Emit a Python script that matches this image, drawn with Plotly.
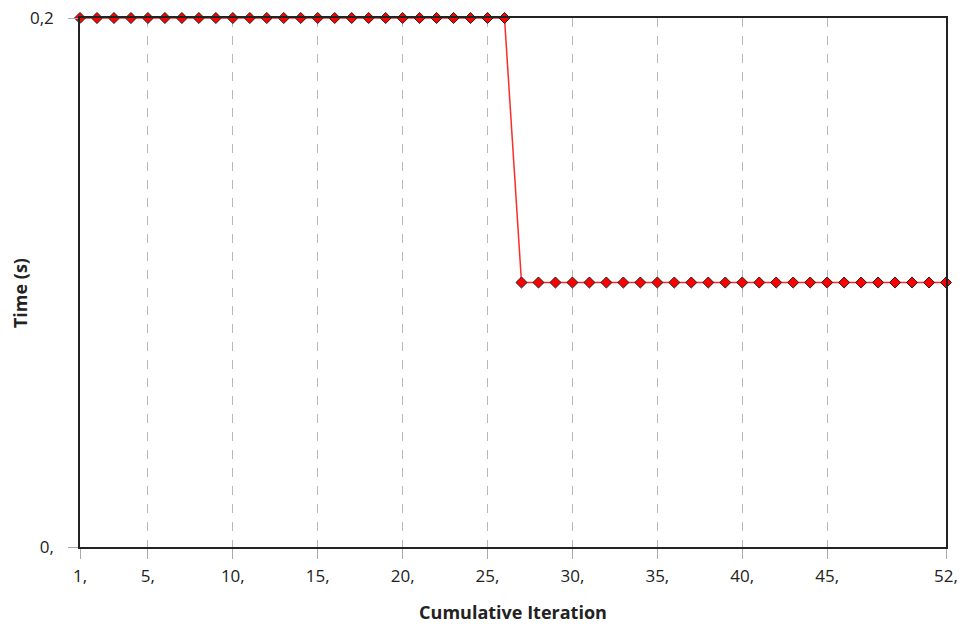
import plotly.graph_objects as go

# Solver time per cumulative iteration
iterations = list(range(1, 53))
time_s = [0.2] * 26 + [0.1] * 26

x_tick_vals = [1, 5, 10, 15, 20, 25, 30, 35, 40, 45, 52]
x_tick_text = ["1,", "5,", "10,", "15,", "20,", "25,", "30,", "35,", "40,", "45,", "52,"]
y_tick_vals = [0, 0.2]
y_tick_text = ["0,", "0,2"]

fig = go.Figure()
fig.add_trace(go.Scatter(
    x=iterations,
    y=time_s,
    mode="lines+markers",
    line=dict(color="#ff2a2a", width=1.5),
    marker=dict(symbol="diamond", size=8.5, color="#ff0000",
                line=dict(color="#222222", width=1)),
    cliponaxis=False,
    showlegend=False,
))

font_family = "Open Sans, Noto Sans, sans-serif"

fig.update_layout(
    width=962, height=626,
    margin=dict(l=80, r=16, t=18, b=79),
    plot_bgcolor="white",
    paper_bgcolor="white",
    font=dict(family=font_family, size=17, color="#222222"),
)

fig.update_xaxes(
    range=[1, 52],
    tickvals=x_tick_vals,
    ticktext=x_tick_text,
    ticks="outside", ticklen=10, tickcolor="#aaaaaa", tickwidth=1,
    ticklabelstandoff=3,
    showgrid=True, gridcolor="#b8b8b8", griddash="dash", gridwidth=1,
    showline=True, linecolor="#222222", linewidth=1.5, mirror=True,
    zeroline=False,
    automargin=False,
    title=dict(text="<b>Cumulative Iteration</b>", font=dict(size=18, color="#222222"), standoff=20),
)

fig.update_yaxes(
    range=[0, 0.2],
    tickvals=y_tick_vals,
    ticktext=y_tick_text,
    ticks="outside", ticklen=10, tickcolor="#aaaaaa", tickwidth=1,
    ticklabelstandoff=11,
    showgrid=False,
    showline=True, linecolor="#222222", linewidth=1.5, mirror=True,
    zeroline=False,
    automargin=False,
)

# Vertical y-axis title placed in the left margin
fig.add_annotation(
    text="<b>Time (s)</b>",
    xref="paper", yref="paper",
    x=-60 / 866, y=0.48,
    xanchor="center", yanchor="middle",
    textangle=-90, showarrow=False,
    font=dict(size=18, color="#222222"),
)

fig.write_html("out.html")
